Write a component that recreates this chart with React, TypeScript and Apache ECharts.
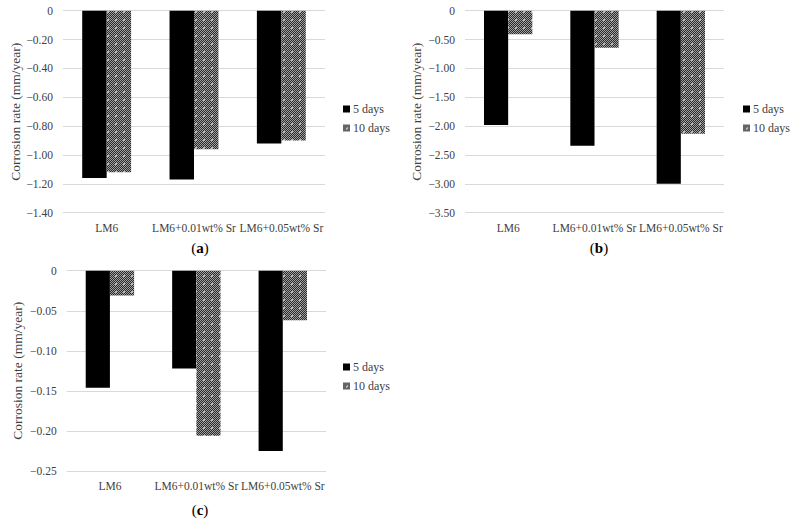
import React, { useEffect, useRef } from "react";
import * as echarts from "echarts";

const categories = ["LM6", "LM6+0.01wt% Sr", "LM6+0.05wt% Sr"];
const seriesNames = ["5 days", "10 days"];

const a5 = [-1.16, -1.17, -0.92];
const a10 = [-1.12, -0.96, -0.9];
const b5 = [-1.98, -2.34, -3.0];
const b10 = [-0.41, -0.64, -2.13];
const c5 = [-0.146, -0.122, -0.225];
const c10 = [-0.031, -0.206, -0.062];

const yRanges = [
  { min: -1.4, max: 0, interval: 0.2 },
  { min: -3.5, max: 0, interval: 0.5 },
  { min: -0.25, max: 0, interval: 0.05 },
];
const panelLabels = ["a", "b", "c"];

const FONT = "'Liberation Serif', 'Times New Roman', serif";

function makePattern() {
  const c = document.createElement("canvas");
  c.width = 8;
  c.height = 8;
  const ctx = c.getContext("2d")!;
  ctx.fillStyle = "#2a2a2a";
  ctx.fillRect(0, 0, 8, 8);
  for (let x = 0; x < 8; x++) {
    for (let y = 0; y < 8; y++) {
      if ((x + y) % 2 === 0) {
        ctx.fillStyle = "#a0a0a0";
        ctx.fillRect(x, y, 1, 1);
      }
    }
  }
  ctx.fillStyle = "#b8b8b8";
  ctx.fillRect(3, 3, 2, 2);
  return c;
}

function fmt(v: number) {
  if (v === 0) return "0";
  return "\u2212" + Math.abs(v).toFixed(2);
}

export default function App() {
  const ref = useRef<HTMLDivElement>(null);
  useEffect(() => {
    const chart = echarts.init(ref.current!, undefined, { renderer: "svg" });
    const pat = makePattern();
    const patternColor: any = { image: pat, repeat: "repeat", imageWidth: 8, imageHeight: 8 };

    const grids = [
      { left: 63, top: 10.7, width: 262, height: 202 },
      { left: 465, top: 10.7, width: 259, height: 202 },
      { left: 66.7, top: 270.7, width: 259.3, height: 200.3 },
    ];
    const nameGaps = [40, 41.5, 42];
    const legendPos = [
      { left: 343, top: 103 },
      { left: 743, top: 103 },
      { left: 343, top: 361 },
    ];
    const data5 = [a5, b5, c5];
    const data10 = [a10, b10, c10];

    const series: any[] = [];
    for (let i = 0; i < 3; i++) {
      series.push({
        name: seriesNames[0],
        type: "bar",
        xAxisIndex: i,
        yAxisIndex: i,
        data: data5[i],
        barGap: "0%",
        barCategoryGap: "44%",
        itemStyle: { color: "#000000" },
      });
      series.push({
        name: seriesNames[1],
        type: "bar",
        xAxisIndex: i,
        yAxisIndex: i,
        data: data10[i],
        barGap: "0%",
        barCategoryGap: "44%",
        itemStyle: { color: patternColor },
      });
    }

    const option: any = {
      animation: false,
      backgroundColor: "#ffffff",
      grid: grids.map((g) => ({ ...g, containLabel: false })),
      xAxis: grids.map((_, i) => ({
        type: "category",
        gridIndex: i,
        data: categories,
        position: "bottom",
        axisLine: { show: false },
        axisTick: { show: false },
        axisLabel: { interval: 0, color: "#404040", fontFamily: FONT, fontSize: 11.5, margin: 9 },
      })),
      yAxis: yRanges.map((r, i) => ({
        type: "value",
        gridIndex: i,
        min: r.min,
        max: r.max,
        interval: r.interval,
        name: "Corrosion rate (mm/year)",
        nameLocation: "middle",
        nameGap: nameGaps[i],
        nameTextStyle: { fontFamily: FONT, fontSize: 13.5, color: "#404040" },
        axisLine: { show: false },
        axisTick: { show: false },
        splitLine: { show: true, lineStyle: { color: "#d9d9d9", width: 1 } },
        axisLabel: { color: "#404040", fontFamily: FONT, fontSize: 11.5, margin: 10, formatter: fmt },
      })),
      legend: legendPos.map((p) => ({
        ...p,
        orient: "vertical",
        data: seriesNames,
        icon: "rect",
        itemWidth: 7,
        itemHeight: 7,
        itemGap: 7,
        textStyle: { fontFamily: FONT, fontSize: 12, color: "#404040", padding: [0, 0, 0, -2] },
        padding: 0,
      })),
      graphic: [
        { x: 200, y: 248 },
        { x: 599, y: 248 },
        { x: 200, y: 510 },
      ].map((p, i) => ({
        type: "text",
        x: p.x,
        y: p.y,
        style: {
          text: "(" + "{b|" + panelLabels[i] + "}" + ")",
          rich: { b: { fontWeight: "bold", fontFamily: FONT, fontSize: 15, fill: "#000" } },
          fontFamily: FONT,
          fontSize: 15,
          fill: "#000",
          align: "center",
          verticalAlign: "middle",
        },
      })),
      series,
    };
    chart.setOption(option);
    return () => chart.dispose();
  }, []);
  return (
    <div
      ref={ref}
      style={{ position: "fixed", left: 0, top: 0, width: 792, height: 520, background: "#fff" }}
    />
  );
}
